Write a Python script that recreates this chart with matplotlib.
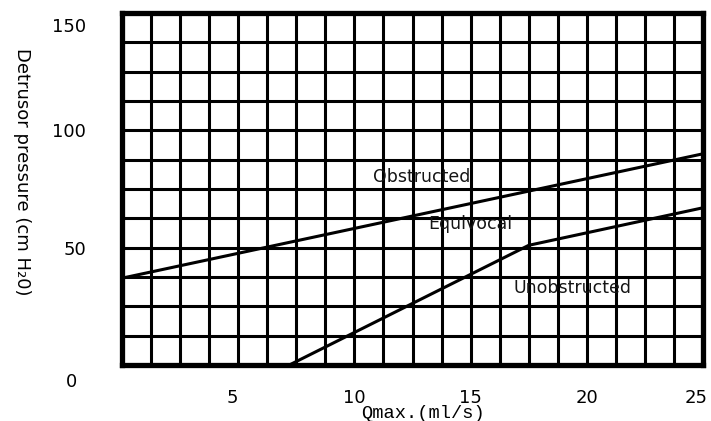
import matplotlib
matplotlib.use("Agg")
import matplotlib.pyplot as plt
import matplotlib.transforms as mtransforms
from matplotlib.ticker import MultipleLocator, FixedLocator

# ---- data ----
obstructed_q = [0, 25]
obstructed_p = [37, 90]
unobstructed_q = [7.2, 17.5, 25]
unobstructed_p = [0, 51, 67]

x_ticks = [5, 10, 15, 20, 25]
x_tick_labels = ["5", "10", "15", "20", "25"]
y_ticks = [0, 50, 100, 150]
y_tick_labels = ["0", "50", "100", "150"]

region_labels = ["Obstructed", "Equivocal", "Unobstructed"]
region_label_q = [12.9, 15.0, 19.4]
region_label_p = [80, 60, 33]

x_label = "Qmax.(ml/s)"
y_label = "Detrusor pressure (cm H\u20820)"

# ---- figure ----
fig = plt.figure(figsize=(7.11, 4.21), dpi=100)
ax = fig.add_axes([122/711, 1-365/421, (703-122)/711, (365-13)/421])

ax.set_xlim(0, 25)
ax.set_ylim(0, 150)

ax.xaxis.set_major_locator(FixedLocator(x_ticks))
ax.set_xticklabels(x_tick_labels)
ax.yaxis.set_major_locator(FixedLocator(y_ticks))
ax.set_yticklabels(y_tick_labels)
ax.xaxis.set_minor_locator(MultipleLocator(1.25))
ax.yaxis.set_minor_locator(MultipleLocator(12.5))
ax.grid(True, which="both", color="black", linewidth=2.2)
ax.set_axisbelow(True)
ax.tick_params(which="both", length=0)
ax.tick_params(axis="x", pad=17, labelsize=13)
ax.tick_params(axis="y", pad=26, labelsize=13)

for s in ax.spines.values():
    s.set_linewidth(3.8)
    s.set_color("black")
    s.set_zorder(5)

ax.plot(obstructed_q, obstructed_p, color="black", linewidth=2.2, zorder=4,
        solid_capstyle="butt", clip_on=False)
ax.plot(unobstructed_q, unobstructed_p, color="black", linewidth=2.2, zorder=4,
        solid_capstyle="butt", clip_on=False)

for lbl, q, p in zip(region_labels, region_label_q, region_label_p):
    ax.text(q, p, lbl, ha="center", va="center", fontsize=12.5, color="#151515", zorder=6)

# shift some tick labels like the reference
def shift(label, dx, dy):
    label.set_transform(label.get_transform() +
                        mtransforms.ScaledTranslation(dx/100, dy/100, fig.dpi_scale_trans))

fig.canvas.draw()
ylabels = ax.get_yticklabels()
shift(ylabels[0], -9, -15)
shift(ylabels[-1], 0, -12)
xlabels = ax.get_xticklabels()
shift(xlabels[0], -6, 0)
shift(xlabels[-1], -7, 0)

ax.set_xlabel(x_label, family="Liberation Mono", fontsize=13.5)
ax.xaxis.set_label_coords((423-122)/581, -(414-365)/352)
ax.xaxis.label.set_va("center")

ax.set_ylabel(y_label, fontsize=13, rotation=270)
ax.yaxis.set_label_coords((22-122)/581, (365-172)/352)
ax.yaxis.label.set_va("center")
ax.yaxis.label.set_ha("center")

fig.savefig("out.png", dpi=100)
